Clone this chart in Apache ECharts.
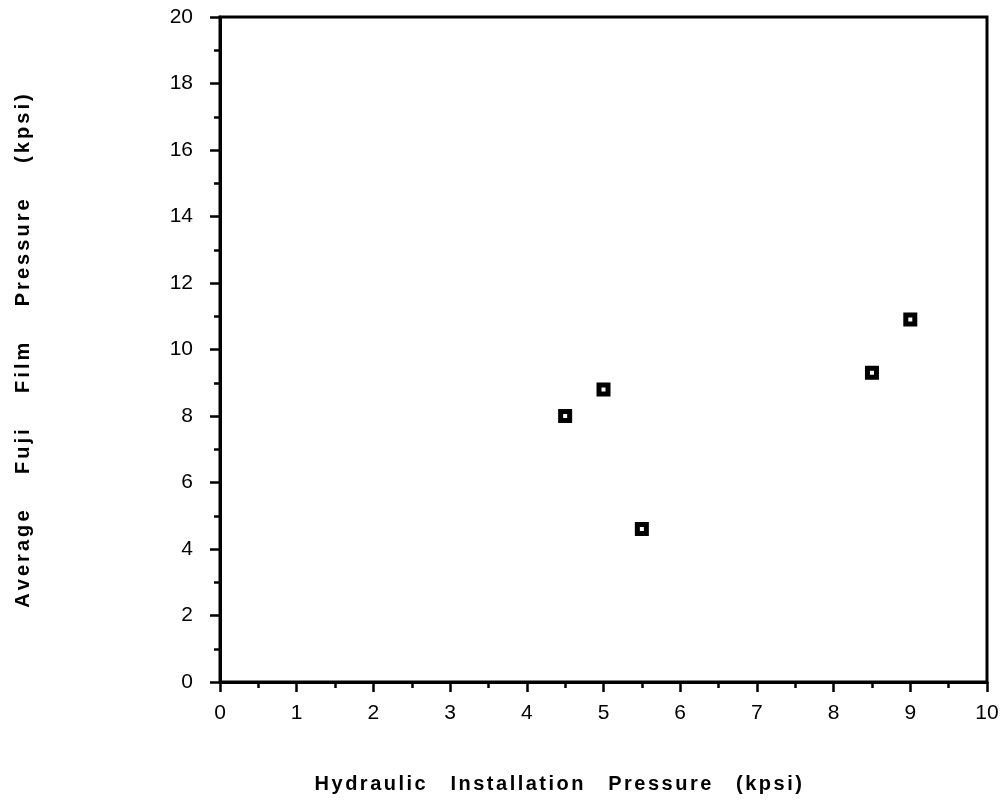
<!DOCTYPE html>
<html><head><meta charset="utf-8">
<script src="https://cdn.jsdelivr.net/npm/echarts@6/dist/echarts.min.js"></script>
<style>html,body{margin:0;padding:0;background:#fff}#c{width:1008px;height:808px}</style>
</head><body><div id="c"></div>
<script>
const installPressure = [4.5, 5.0, 5.5, 8.5, 9.0];
const fujiPressure = [8.0, 8.8, 4.6, 9.3, 10.9];
const xTitle = 'Hydraulic Installation Pressure (kpsi)';
const yTitle = 'Average Fuji Film Pressure (kpsi)';

function spaced(str, wordGap) {
  return str.split(' ').map(w => w.split('').map(ch => ch + '{s| }').join('')).join('{w|' + ' '.repeat(wordGap) + '}');
}

const pts = installPressure.map((x, i) => [x, fujiPressure[i]]);
const font = '"Liberation Sans", Arial, Helvetica, sans-serif';
const titleStyle = (sp) => ({
  fontFamily: font, fontWeight: 'bold', fontSize: 20, color: '#000',
  rich: {
    s: {fontFamily: font, fontSize: sp, fontWeight: 'bold'},
    w: {fontFamily: font, fontSize: 20, fontWeight: 'bold'}
  }
});
const chart = echarts.init(document.getElementById('c'));
const xName = titleStyle(9); xName.padding = [0, 88, 0, 0];
chart.setOption({
  animation: false,
  backgroundColor: '#fff',
  grid: {left: 220, right: 21, top: 17, bottom: 126, show: true, borderColor: '#000', borderWidth: 3, backgroundColor: 'transparent'},
  xAxis: {
    type: 'value', min: 0, max: 10, interval: 1,
    name: spaced(xTitle, 4), nameLocation: 'middle', nameGap: 92,
    nameTextStyle: xName,
    axisLine: {show: true, lineStyle: {color: '#000', width: 3}},
    axisTick: {show: true, length: 10, lineStyle: {color: '#000', width: 2.5}},
    minorTick: {show: true, splitNumber: 2, length: 6, lineStyle: {color: '#000', width: 2.5}},
    axisLabel: {fontFamily: font, fontSize: 21, color: '#000', margin: 21},
    splitLine: {show: false}
  },
  yAxis: {
    type: 'value', min: 0, max: 20, interval: 2,
    name: spaced(yTitle, 6), nameLocation: 'middle', nameGap: 187, nameRotate: 90,
    nameTextStyle: titleStyle(11),
    axisLine: {show: true, lineStyle: {color: '#000', width: 3}},
    axisTick: {show: true, length: 10, lineStyle: {color: '#000', width: 2.5}},
    minorTick: {show: true, splitNumber: 2, length: 6, lineStyle: {color: '#000', width: 2.5}},
    axisLabel: {fontFamily: font, fontSize: 21, color: '#000', margin: 27},
    splitLine: {show: false}
  },
  series: [{
    type: 'scatter', data: pts, symbol: 'rect', symbolSize: 9,
    itemStyle: {color: '#fff', borderColor: '#000', borderWidth: 5, opacity: 1}
  }]
});
</script></body></html>
